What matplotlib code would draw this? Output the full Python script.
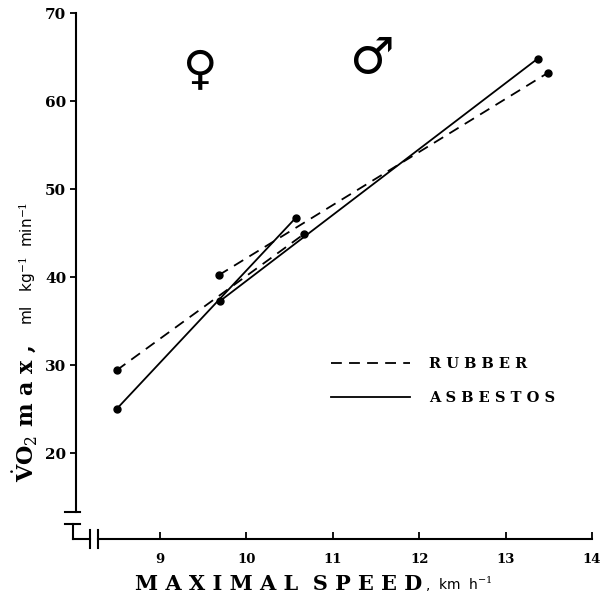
import matplotlib
matplotlib.use("Agg")
import matplotlib.pyplot as plt

# ====== DATA ======
# females
f_speed_asb = [8.5, 10.57]
f_vo2_asb = [25.0, 46.7]
f_speed_rub = [8.5, 10.67]
f_vo2_rub = [29.4, 44.9]
# males
m_speed_asb = [9.7, 13.37]
m_vo2_asb = [37.3, 64.8]
m_speed_rub = [9.68, 13.49]
m_vo2_rub = [40.2, 63.2]

xticks = [9, 10, 11, 12, 13, 14]
xticklabels = ['9', '10', '11', '12', '13', '14']
yticks = [20, 30, 40, 50, 60, 70]

plt.rcParams['mathtext.fontset'] = 'dejavuserif'

W = 602.0
fig = plt.figure(figsize=(6.02, 6.02), dpi=100)
ax = fig.add_axes([76 / W, 1 - 539 / W, (592 - 76) / W, (539 - 13) / W])

lw = 1.3
dash = (0, (6, 4))
ax.plot(f_speed_asb, f_vo2_asb, color='black', lw=lw, marker='o', ms=5)
ax.plot(f_speed_rub, f_vo2_rub, color='black', lw=lw, ls=dash, marker='o', ms=5)
ax.plot(m_speed_asb, m_vo2_asb, color='black', lw=lw, marker='o', ms=5, label='ASBESTOS')
ax.plot(m_speed_rub, m_vo2_rub, color='black', lw=lw, ls=dash, marker='o', ms=5, label='RUBBER')

ax.set_xlim(8.03, 14.0)
ax.set_ylim(10.23, 70.0)

for s in ax.spines.values():
    s.set_visible(False)

ax.set_xticks(xticks)
ax.set_xticklabels(xticklabels, fontfamily='DejaVu Serif', fontweight='bold', fontsize=9.5)
ax.set_yticks(yticks)
ax.set_yticklabels([str(v) for v in yticks], fontfamily='DejaVu Serif', fontweight='bold', fontsize=11)
ax.tick_params(axis='x', direction='in', length=5, width=1.3, pad=10)
ax.tick_params(axis='y', direction='out', length=4, width=1.3, pad=3)

# axes with breaks
k = dict(color='black', lw=1.5, transform=ax.transAxes, clip_on=False)
ax.plot([0, 0], [0.051, 1.0], **k)
ax.plot([-0.021, 0.008], [0.051, 0.051], **k)
ax.plot([-0.021, 0.008], [0.0285, 0.0285], **k)
ax.plot([-0.006, -0.006], [0.0285, 0.0], **k)
ax.plot([-0.006, 0.027], [0.0, 0.0], **k)
ax.plot([0.027, 0.027], [-0.017, 0.017], **k)
ax.plot([0.043, 0.043], [-0.017, 0.017], **k)
ax.plot([0.043, 1.0], [0.0, 0.0], **k)

# legend
leg = ax.legend(handles=ax.get_lines()[3:1:-1], loc='center left',
                bbox_to_anchor=(0.495, 0.30), frameon=False, handlelength=5.4,
                handletextpad=1.3, labelspacing=1.4, borderpad=0, borderaxespad=0,
                prop={'family': 'DejaVu Serif', 'size': 10.5, 'weight': 'bold'})
for h in leg.legend_handles:
    h.set_marker('')
for t in leg.get_texts():
    t.set_text(' '.join(t.get_text()))

# sex symbols
ax.text(9.47, 63.3, '\u2640', fontsize=34, fontfamily='DejaVu Sans', ha='center', va='center')
ax.text(11.45, 64.8, '\u2642', fontsize=36, fontfamily='DejaVu Sans', ha='center', va='center')

# axis labels
fig.text(135 / W, 1 - 590 / W, 'M A X I M A L  S P E E D', fontfamily='DejaVu Serif',
         fontweight='bold', fontsize=15, ha='left', va='baseline')
fig.text(425 / W, 1 - 590 / W, r',  km  h$^{-1}$', fontfamily='DejaVu Sans', fontsize=10,
         ha='left', va='baseline')

fig.text(33 / W, 1 - 482 / W, r'$\dot{\mathbf{V}}\mathbf{O}_2$ m a x ,', fontfamily='DejaVu Serif',
         fontweight='bold', fontsize=16, rotation=90, rotation_mode='anchor',
         ha='left', va='baseline')
fig.text(33 / W, 1 - 325 / W, r'ml   kg$^{-1}$  min$^{-1}$', fontfamily='DejaVu Sans',
         fontsize=11, rotation=90, rotation_mode='anchor', ha='left', va='baseline')

fig.savefig('out.png', dpi=100)
